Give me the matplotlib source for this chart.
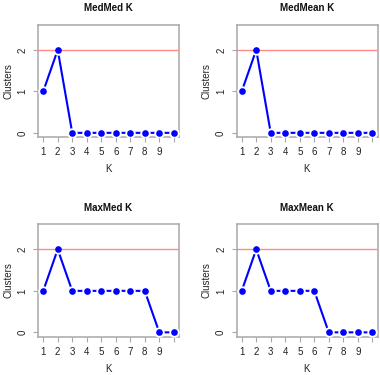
import matplotlib
matplotlib.use("Agg")
import matplotlib.pyplot as plt

plt.rcParams['font.family'] = ['Liberation Sans', 'DejaVu Sans']

titles = ["MedMed K", "MedMean K", "MaxMed K", "MaxMean K"]
k_values = [1, 2, 3, 4, 5, 6, 7, 8, 9, 10]
medmed = [1, 2, 0, 0, 0, 0, 0, 0, 0, 0]
medmean = [1, 2, 0, 0, 0, 0, 0, 0, 0, 0]
maxmed = [1, 2, 1, 1, 1, 1, 1, 1, 0, 0]
maxmean = [1, 2, 1, 1, 1, 1, 0, 0, 0, 0]
series = [medmed, medmean, maxmed, maxmean]
x_tick_labels = ["1", "2", "3", "4", "5", "6", "7", "8", "9", ""]
y_ticks = [0, 1, 2]
ref_line = 2

W, H = 380, 375
fig = plt.figure(figsize=(W / 100, H / 100), dpi=100)

# axes boxes in pixels: left, top, width, height
boxes = [(38, 25, 141, 112), (236.5, 25, 141, 112),
         (38, 224.5, 141, 112), (236.5, 224.5, 141, 112)]

gray = '#a8a8a8'
for (l, t, w, h), title, vals in zip(boxes, titles, series):
    ax = fig.add_axes([l / W, 1 - (t + h) / H, w / W, h / H])
    ax.plot(k_values, vals, color='blue', lw=1.5, zorder=2, solid_capstyle='butt')
    ax.plot(k_values, vals, 'o', color='white', ms=7.5, mew=0, zorder=3)
    ax.axhline(ref_line, color='#ff8a8a', lw=1.0, zorder=4)
    ax.plot(k_values, vals, 'o', color='blue', ms=4.8, mew=0, zorder=5)
    ax.set_xlim(0.64, 10.36)
    ax.set_ylim(-0.1, 2.6)
    ax.set_xticks(k_values)
    ax.set_xticklabels(x_tick_labels)
    ax.set_yticks(y_ticks)
    ax.set_yticklabels([str(v) for v in y_ticks], rotation=90, va='center')
    for s in ax.spines.values():
        s.set_color(gray)
        s.set_linewidth(1.1)
    ax.tick_params(colors=gray, labelcolor='#222222', labelsize=7, length=3.5,
                   width=0.8, pad=4)
    ax.set_title(title, fontsize=7, fontweight='bold', pad=10, color='#111111')
    ax.set_xlabel("K", fontsize=7, labelpad=5, color='#222222')
    ax.set_ylabel("Clusters", fontsize=7, labelpad=3, color='#222222')

fig.savefig("out.png", dpi=100)
